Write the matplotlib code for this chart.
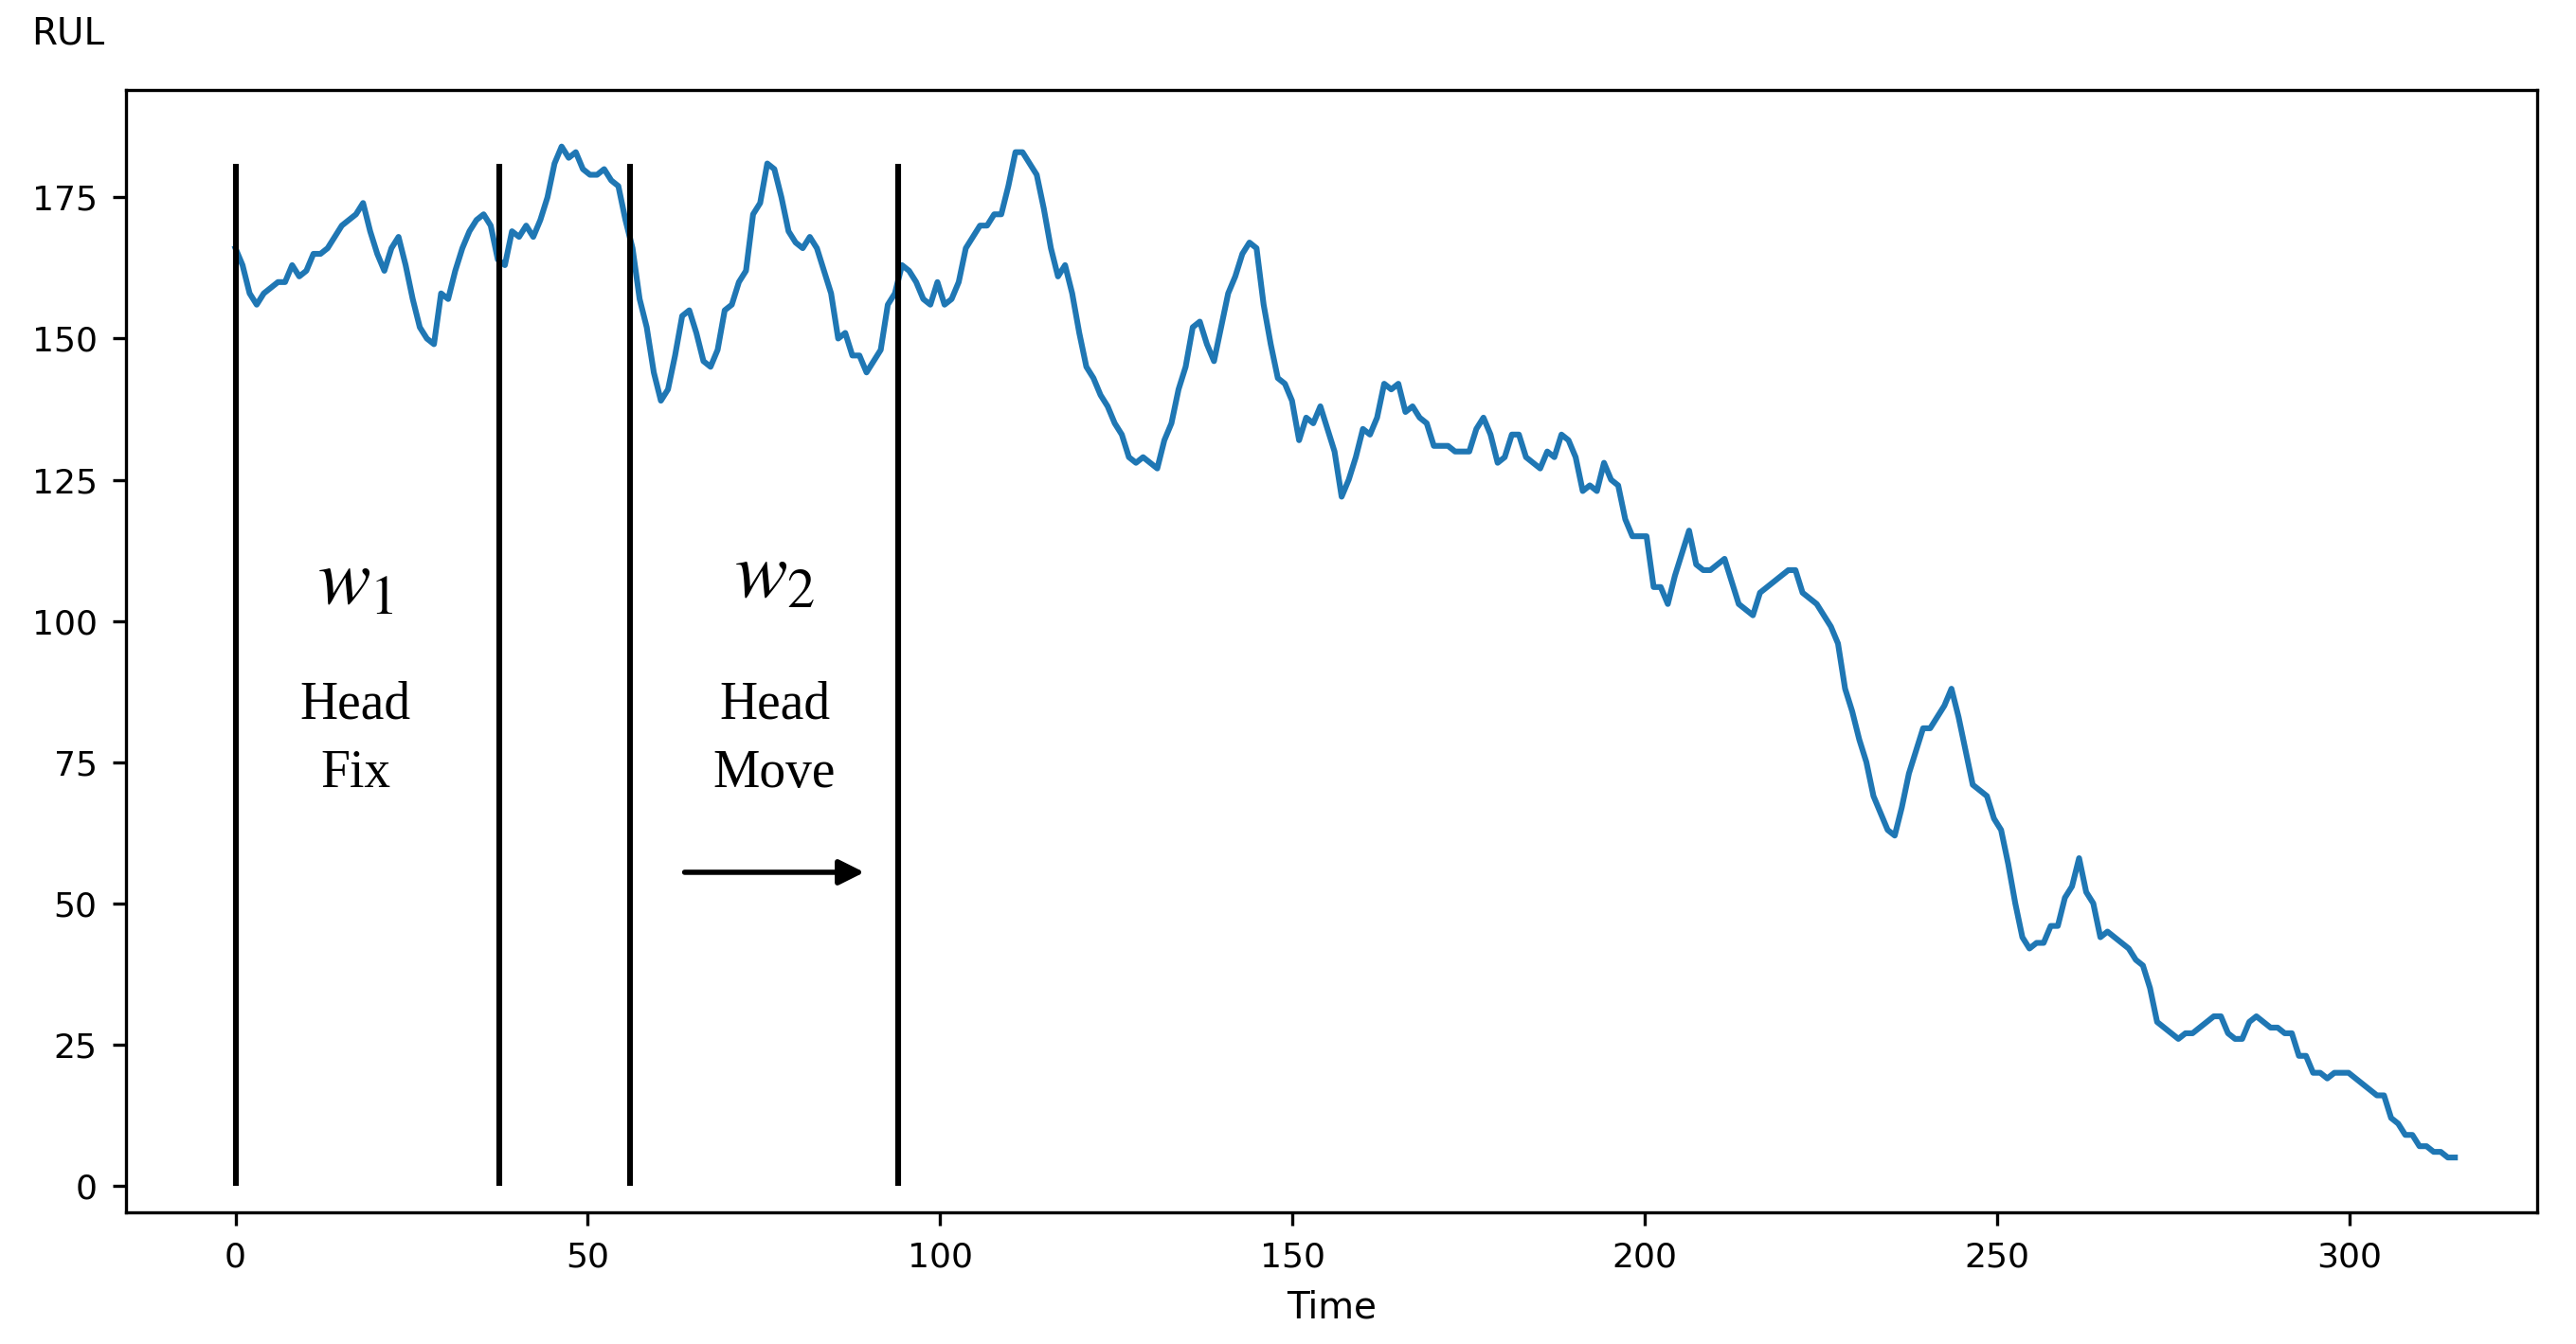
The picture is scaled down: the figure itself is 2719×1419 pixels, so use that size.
import matplotlib
matplotlib.use("Agg")
import matplotlib.pyplot as plt

plt.rcParams['mathtext.fontset'] = 'stix'

t = list(range(0, 314))
rul = [166,163,158,156,158,159,160,160,163,161,162,165,165,166,168,170,171,172,174,169,165,162,166,168,163,157,152,150,149,158,
       157,162,166,169,171,172,170,164,163,169,168,170,168,171,175,181,184,182,183,180,179,179,180,178,177,171,166,157,152,144,
       139,141,147,154,155,151,146,145,148,155,156,160,162,172,174,181,180,175,169,167,166,168,166,162,158,150,151,147,147,144,
       146,148,156,158,163,162,160,157,156,160,156,157,160,166,168,170,170,172,172,177,183,183,181,179,173,166,161,163,158,151,
       145,143,140,138,135,133,129,128,129,128,127,132,135,141,145,152,153,149,146,152,158,161,165,167,166,156,149,143,142,139,
       132,136,135,138,134,130,122,125,129,134,133,136,142,141,142,137,138,136,135,131,131,131,130,130,130,134,136,133,128,129,
       133,133,129,128,127,130,129,133,132,129,123,124,123,128,125,124,118,115,115,115,106,106,103,108,112,116,110,109,109,110,
       111,107,103,102,101,105,106,107,108,109,109,105,104,103,101,99,96,88,84,79,75,69,66,63,62,67,73,77,81,81,
       83,85,88,83,77,71,70,69,65,63,57,50,44,42,43,43,46,46,51,53,58,52,50,44,45,44,43,42,40,39,
       35,29,28,27,26,27,27,28,29,30,30,27,26,26,29,30,29,28,28,27,27,23,23,20,20,19,20,20,20,19,
       18,17,16,16,12,11,9,9,7,7,6,6,5,5]
t = t[:len(rul)]
t = [v * 315 / (len(rul) - 1) for v in t]

window_lines = [0, 37.5, 56, 94]
line_top = 181

fig = plt.figure(figsize=(13.595, 7.095), dpi=200)
ax = fig.add_axes([0.049, 0.098, 0.936, 0.835])
ax.plot(t, rul, color='#1f77b4', lw=2.2)
ax.vlines(window_lines, 0, line_top, color='black', lw=2.2)

ax.set_xlim(-15.5, 326.7)
ax.set_ylim(-4.7, 194)
ax.set_xticks([0, 50, 100, 150, 200, 250, 300])
ax.set_yticks([0, 25, 50, 75, 100, 125, 150, 175])
ax.tick_params(labelsize=13, length=5, width=1.2, pad=6)
for s in ax.spines.values():
    s.set_linewidth(1.2)
ax.set_xlabel('Time', fontsize=14, labelpad=6)
fig.text(0.012, 0.975, 'RUL', fontsize=14, ha='left', va='center')

ax.text(17, 107, r'$w_{\mathit{1}}$', fontsize=30, ha='center', va='center')
ax.text(17, 79, 'Head\nFix', fontsize=20, ha='center', va='center', family='Liberation Serif', linespacing=1.5)
ax.text(76.5, 108, r'$w_{\mathit{2}}$', fontsize=30, ha='center', va='center')
ax.text(76.5, 79, 'Head\nMove', fontsize=20, ha='center', va='center', family='Liberation Serif', linespacing=1.5)
ax.annotate('', xy=(90, 55.5), xytext=(63, 55.5),
            arrowprops=dict(arrowstyle='-|>', color='black', lw=2, mutation_scale=20))

fig.savefig('out.png', dpi=200)
